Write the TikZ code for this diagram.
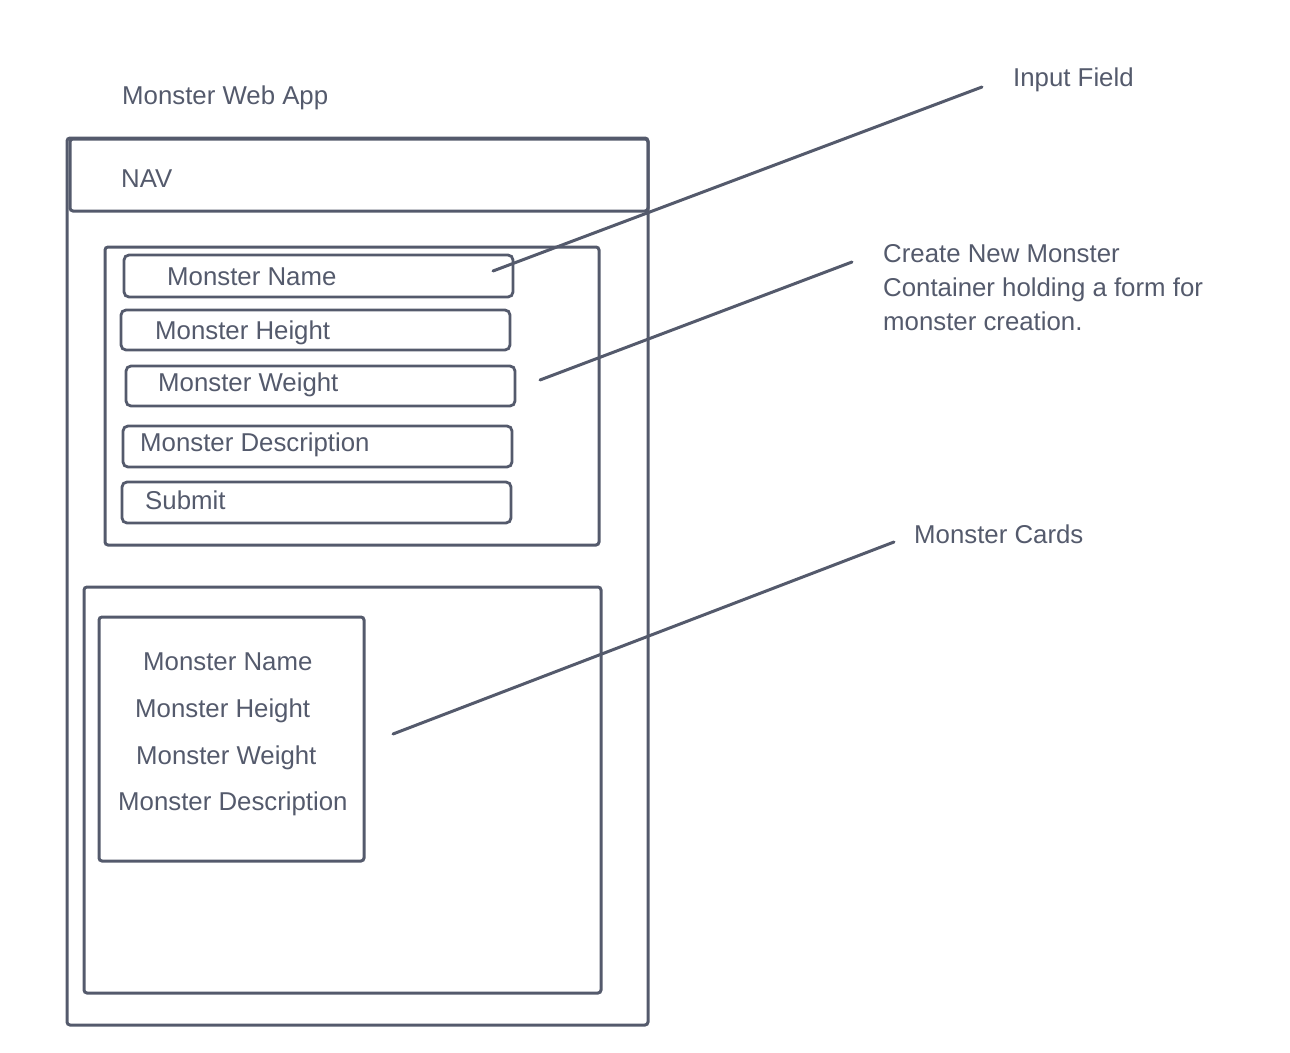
\documentclass[tikz,border=0pt]{standalone}
\usepackage{fontspec}
\setmainfont{Liberation Sans}
\definecolor{ink}{RGB}{84,90,108}
\tikzset{
  box/.style={draw=ink, line width=3pt, rounded corners=3pt, anchor=north west, inner sep=0pt, outer sep=0pt},
  field/.style={box, rounded corners=5pt, line width=2.8pt},
  txt/.style={text=ink, inner sep=0pt, anchor=west, text height=18pt, text depth=0pt, font=\fontsize{25.8}{30}\selectfont},
  conn/.style={draw=ink, line width=3pt, line cap=round}
}
\begin{document}
\begin{tikzpicture}[x=1pt,y=-1pt]
\useasboundingbox (0,0) rectangle (1290,1052);
% title
\node[txt] (title) at (122,95) {Monster Web App};
% outer frame
\node[box, minimum width=581pt, minimum height=887pt] (outer) at (67,138) {};
\node[box, minimum width=578pt, minimum height=72pt] (nav) at (70,139) {};
\node[txt] (navt) at (121,178) {NAV};
% form container
\node[box, minimum width=494pt, minimum height=298pt] (form) at (105,247) {};
\node[field, minimum width=389pt, minimum height=42pt] (f1) at (124,255) {};
\node[txt] (f1t) at (167,276.5) {Monster Name};
\node[field, minimum width=389pt, minimum height=40pt] (f2) at (121,310) {};
\node[txt] (f2t) at (155,330) {Monster Height};
\node[field, minimum width=389pt, minimum height=40pt] (f3) at (126,366) {};
\node[txt] (f3t) at (158,382) {Monster Weight};
\node[field, minimum width=389pt, minimum height=41pt] (f4) at (123,426) {};
\node[txt] (f4t) at (140,442) {Monster Description};
\node[field, minimum width=389pt, minimum height=41pt] (f5) at (122,482) {};
\node[txt] (f5t) at (145,500) {Submit};
% cards container
\node[box, minimum width=517pt, minimum height=406pt] (cards) at (84,587) {};
\node[box, minimum width=265pt, minimum height=244pt] (card) at (99,617) {};
\node[txt] (c1) at (143,661) {Monster Name};
\node[txt] (c2) at (135,708) {Monster Height};
\node[txt] (c3) at (136,755) {Monster Weight};
\node[txt] (c4) at (118,801) {Monster Description};
% annotations
\node[txt] (lin) at (1013,77) {Input Field};
\node[txt] (lc1) at (883,253) {Create New Monster};
\node[txt] (lc2) at (883,287) {Container holding a form for};
\node[txt] (lc3) at (883,321) {monster creation.};
\node[txt] (lcards) at (914,534) {Monster Cards};
% connectors
\coordinate (a1) at (493,271);
\coordinate (a2) at (982,87);
\coordinate (b1) at (540,380);
\coordinate (b2) at (852,262);
\coordinate (d1) at (393,734);
\coordinate (d2) at (894,542);
\draw[conn] (a1) -- (a2);
\draw[conn] (b1) -- (b2);
\draw[conn] (d1) -- (d2);
\end{tikzpicture}
\end{document}
